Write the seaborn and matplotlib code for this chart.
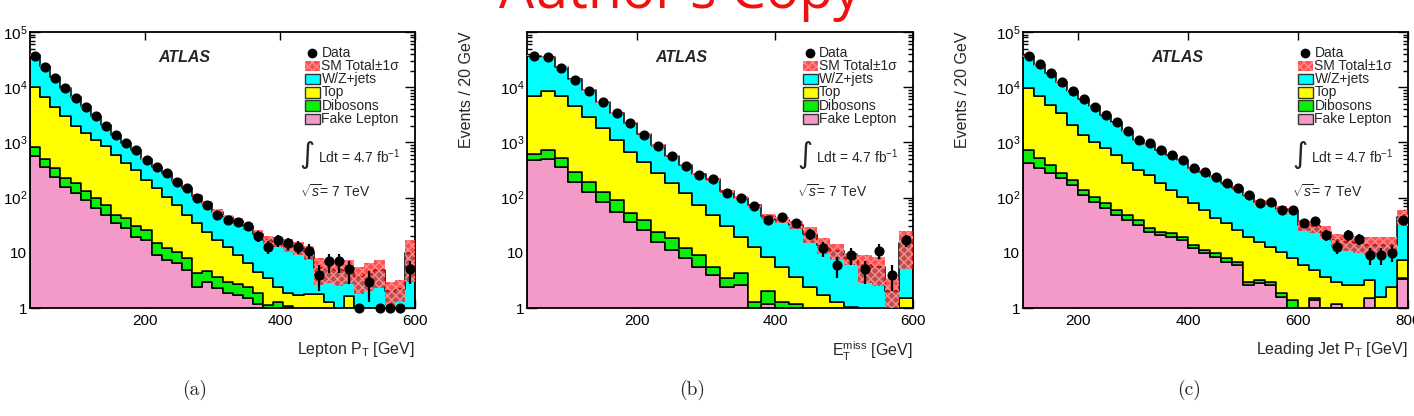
import numpy as np
import pandas as pd
import matplotlib
matplotlib.use("Agg")
import matplotlib.pyplot as plt
import seaborn as sns
from matplotlib.patches import Rectangle
from matplotlib.ticker import LogLocator, NullFormatter, FixedLocator

sns.set_theme(style="ticks")
plt.rcParams["font.family"] = ["Liberation Sans", "DejaVu Sans"]
plt.rcParams["mathtext.fontset"] = "custom"
plt.rcParams["mathtext.rm"] = "Liberation Sans"
plt.rcParams["mathtext.it"] = "Liberation Sans:italic"
plt.rcParams["mathtext.bf"] = "Liberation Sans:bold"
plt.rcParams["hatch.linewidth"] = 1.0

# ---------------- data ----------------
PROCS = ["W/Z+jets", "Top", "Dibosons", "Fake Lepton"]
COLORS = {"W/Z+jets": "#00ffff", "Top": "#ffff00", "Dibosons": "#0aee0a", "Fake Lepton": "#f49ac8"}
BAND_FACE = (1.0, 0.05, 0.05, 0.72)
BAND_HATCH = "#ff8a8a"

# Panel (a): lepton pT, 30-600 GeV, 15 GeV bins
a_range = (30, 600, 15)
a_stack_fake = [570, 365, 240, 158, 120, 90, 64, 48, 34, 28, 19.6, 17, 9.1, 7.4, 6.4, 4.9, 2.4, 3.0, 2.3,
                1.85, 1.7, 1.5, 1.2, 0.95, 0.8, 0.7, 0, 0, 0, 0, 0, 0, 0, 0, 0, 0, 0, 0]
a_stack_dib = [832, 493, 340, 224, 182, 129, 97, 74, 48, 42, 30, 26, 14.8, 12, 10.5, 7.9, 4.3, 4.6, 3.7,
               3.0, 2.7, 2.4, 1.85, 1.13, 1.3, 1.1, 0, 0, 0, 0, 0, 0, 0, 0, 0, 0, 0, 0]
a_stack_top = [10000, 6700, 4400, 2950, 2000, 1450, 1100, 870, 590, 417, 316, 210, 148, 104, 74, 48.5, 34,
               24, 17, 12.9, 9.1, 6.4, 4.5, 3.45, 2.4, 1.85, 1.7, 1.8, 1.8, 1.3, 0, 1.65, 0, 0, 0, 0, 0, 0]
a_sm_total = [38000, 24000, 15000, 9800, 6600, 4500, 3050, 2050, 1380, 980, 720, 500, 365, 275, 200, 150,
              108, 80, 56, 44, 38, 30, 22, 17, 16, 14, 12.5, 10.5, 5.3, 5.2, 4.8, 5.1, 3.7, 4.2, 4.9, 2.0,
              2.25, 10]
a_sm_err = [1500, 900, 550, 360, 250, 170, 120, 85, 60, 45, 36, 27, 21, 17, 14, 11, 9, 7.5, 6, 5, 5, 4.5,
            4, 3.5, 3.5, 3.5, 3.2, 3, 2.7, 2.4, 2.3, 2.4, 1.9, 2.2, 2.6, 1.0, 0.95, 7]
a_data = [36000, 23000, 14800, 9600, 6500, 4450, 2960, 2000, 1350, 960, 730, 480, 365, 275, 195, 147, 97,
          73, 48, 39, 36, 30, 20, 13, 17, 15, 13, 11, 4, 7, 7, 5, 0, 3, 0, 0, 0, 5]

# Panel (b): ETmiss, 40-600 GeV, 20 GeV bins
b_range = (40, 600, 20)
b_stack_fake = [480, 510, 365, 195, 128, 84, 56, 36.5, 26, 16, 11.2, 7.9, 5.6, 3.95, 2.4, 2.6, 0, 1.2,
                0, 0, 0, 0, 0, 0, 0, 0, 0, 0]
b_stack_dib = [620, 720, 515, 295, 195, 128, 90, 52, 39, 24, 18.2, 12, 9.1, 5.6, 3.45, 4.25, 1.3, 2.0,
               1.3, 1.2, 0, 0, 0, 0, 0, 0, 0, 0]
b_stack_top = [6840, 8700, 7000, 4600, 2900, 1800, 1100, 680, 450, 275, 182, 120, 73, 48, 30, 19.6, 12.9,
               8.5, 5.6, 3.7, 2.4, 1.7, 1.3, 1.05, 0, 0, 0, 1.5]
b_sm_total = [37500, 35500, 23000, 13800, 8800, 5400, 3450, 2250, 1420, 880, 575, 385, 265, 215, 130, 100,
              72, 46, 40, 32, 22, 14, 11, 8, 6, 5.5, 2, 15]
b_sm_err = [1500, 1400, 900, 550, 350, 220, 140, 90, 60, 38, 25, 18, 13, 11, 8, 7, 6, 5, 5, 5, 7, 4.5,
            3.5, 2, 3.2, 3, 1.5, 10]
b_data = [36500, 34600, 22500, 13600, 8700, 5300, 3400, 2240, 1380, 860, 570, 375, 257, 215, 123, 97, 70,
          40, 44, 35, 22, 12, 6, 9, 5, 11, 4, 17]

# Panel (c): leading jet pT, 100-800 GeV, 20 GeV bins
c_range = (100, 800, 20)
c_stack_fake = [417, 340, 275, 225, 170, 112, 84, 64, 48, 39, 32, 24, 21, 19.6, 17, 12, 9.8, 8.5, 6.9, 6.0,
                2.6, 2.8, 2.6, 1.6, 0.9, 0, 1.4, 0, 1.18, 0, 0, 1.5, 0, 0, 3.4]
c_stack_dib = [730, 515, 390, 275, 208, 137, 104, 79, 60, 48, 39, 28, 24, 22.5, 19.6, 13.8, 11.2, 9.8, 7.9,
               6.9, 3.0, 3.2, 3.0, 1.85, 1.4, 0, 1.5, 0, 1.2, 0, 0, 1.5, 0, 0, 3.5]
c_stack_top = [9700, 6840, 4800, 3400, 2100, 1360, 1030, 780, 590, 417, 316, 257, 182, 137, 104, 79, 60, 42,
               34, 26, 19.6, 15.9, 12.9, 10.5, 7.9, 6, 4.9, 3.7, 3.0, 2.6, 2.6, 3.2, 1.6, 2.4, 7.4]
c_sm_total = [37000, 25500, 18000, 12400, 8600, 6200, 4500, 3200, 2300, 1620, 1120, 940, 740, 590, 480, 345,
              295, 240, 182, 148, 112, 82, 82, 62, 58, 32, 30, 24, 17, 16, 15, 14, 14, 14, 45]
c_sm_err = [1400, 950, 650, 450, 320, 230, 170, 120, 90, 65, 48, 40, 32, 27, 23, 18, 16, 14, 12, 11, 9, 8,
            8, 7, 7, 7, 7, 6, 5, 5, 5, 5, 5, 5, 15]
c_data = [36500, 25800, 18300, 12300, 8500, 6150, 4450, 3200, 2300, 1600, 1100, 960, 730, 590, 480, 340, 295,
          240, 182, 147, 112, 79, 84, 60, 60, 34, 37, 21, 13, 21, 18, 9, 9, 10, 40]

LEGEND_LABELS = ["Data", "SM Total\u00b11\u03c3", "W/Z+jets", "Top", "Dibosons", "Fake Lepton"]
Y_TICK_LABELS = ["1", "10", "$10^{2}$", "$10^{3}$", "$10^{4}$", "$10^{5}$"]

W, H = 1414, 416
fig = plt.figure(figsize=(W / 100, H / 100), dpi=100)


def draw_panel(left_px, width_px, rng, s_fake, s_dib, s_top, total, err, data,
               xticks, xlabel, ylabel, show_top_label, caption, cap_x):
    ax = fig.add_axes([left_px / W, 108 / H, width_px / W, 276 / H])
    lo, hi, step = rng
    edges = np.arange(lo, hi + step / 2, step)
    centers = 0.5 * (edges[:-1] + edges[1:])
    s_fake, s_dib, s_top = np.array(s_fake, float), np.array(s_dib, float), np.array(s_top, float)
    total, err, data = np.array(total, float), np.array(err, float), np.array(data, float)
    parts = {
        "Fake Lepton": s_fake,
        "Dibosons": np.clip(s_dib - s_fake, 0, None),
        "Top": np.clip(s_top - np.maximum(s_dib, s_fake), 0, None),
        "W/Z+jets": np.clip(total - np.maximum.reduce([s_top, s_dib, s_fake]), 0, None),
    }
    df = pd.concat([pd.DataFrame({"x": centers, "w": v, "proc": k}) for k, v in parts.items()],
                   ignore_index=True)
    ax.set_yscale("log")
    sns.histplot(data=df, x="x", weights="w", hue="proc", hue_order=PROCS, palette=COLORS,
                 multiple="stack", bins=[float(e) for e in edges], element="step", fill=True, alpha=1,
                 edgecolor="black", linewidth=1.1, legend=False, ax=ax)
    # uncertainty band
    low = np.clip(total - err, 0.05, None)
    up = total + err
    ax.bar(centers, up - low, bottom=low, width=step, facecolor=BAND_FACE,
           edgecolor=BAND_HATCH, hatch="xxxx", linewidth=0, zorder=3)
    # data
    yplot = np.where(data > 0, data, 1.0)
    e = np.where(data > 0, np.sqrt(data), 0)
    ax.errorbar(centers, yplot, yerr=[np.minimum(e, yplot * 0.999), e], fmt="o", ms=6.3, color="black",
                elinewidth=1.6, capsize=0, zorder=5, clip_on=False)

    ax.set_xlim(lo, hi)
    ax.set_ylim(1, 1e5)
    ax.set_xticks(xticks)
    ax.set_xticklabels([str(t) for t in xticks])
    ax.yaxis.set_major_locator(FixedLocator([1, 10, 1e2, 1e3, 1e4, 1e5]))
    labels = list(Y_TICK_LABELS)
    if not show_top_label:
        labels[-1] = ""
    ax.set_yticklabels(labels)
    ax.yaxis.set_minor_locator(LogLocator(base=10, subs=np.arange(2, 10)))
    ax.yaxis.set_minor_formatter(NullFormatter())
    ax.tick_params(axis="both", which="both", direction="in", top=True, right=True,
                   labelsize=11, colors="black", width=1.0)
    ax.tick_params(axis="y", which="major", length=7, pad=2)
    ax.tick_params(axis="y", which="minor", length=3.5)
    ax.tick_params(axis="x", which="major", length=6, pad=4)
    for sp in ax.spines.values():
        sp.set_linewidth(1.3)
        sp.set_color("black")
        sp.set_visible(True)
    ax.set_xlabel(xlabel, fontsize=11.5, ha="right")
    ax.xaxis.set_label_coords(1.0, -0.115)
    ax.set_ylabel("")
    if ylabel:
        ax.set_ylabel(ylabel, fontsize=11.5, ha="right")
        ax.yaxis.set_label_coords(-0.137, 1.0)

    # ATLAS
    ax.text(0.40, 0.906, "ATLAS", transform=ax.transAxes, fontsize=11.5, fontweight="bold",
            fontstyle="italic", ha="center", va="center")
    # legend (drawn by hand, ROOT style)
    rows = [0.925, 0.877, 0.829, 0.781, 0.733, 0.685]
    bx, bw, bh = 0.714, 0.039, 0.038
    ax.plot([bx + bw / 2], [rows[0]], "o", color="black", ms=6, transform=ax.transAxes, zorder=6)
    ax.add_patch(Rectangle((bx, rows[1] - bh / 2), bw, bh, transform=ax.transAxes,
                           facecolor=BAND_FACE, edgecolor=BAND_HATCH, hatch="xxxx",
                           linewidth=0, zorder=6))
    for r, name in zip(rows[2:], ["W/Z+jets", "Top", "Dibosons", "Fake Lepton"]):
        ax.add_patch(Rectangle((bx, r - bh / 2), bw, bh, transform=ax.transAxes,
                               facecolor=COLORS[name], edgecolor="#333333", linewidth=1.0, zorder=6))
    for r, lab in zip(rows, LEGEND_LABELS):
        ax.text(bx + bw + 0.004, r, lab, transform=ax.transAxes, fontsize=10, ha="left", va="center",
                zorder=7)
    # luminosity / energy
    ax.text(0.700, 0.553, "\u222b", transform=ax.transAxes, fontsize=21, family=["DejaVu Sans"],
            ha="left", va="center")
    ax.text(0.748, 0.548, "Ldt = 4.7 fb$^{-1}$", transform=ax.transAxes, fontsize=10,
            ha="left", va="center")
    ax.text(0.700, 0.421, r"$\sqrt{s}$= 7 TeV", transform=ax.transAxes, fontsize=10,
            ha="left", va="center")
    fig.text(cap_x / W, 1 - 390 / H, caption, family="cmr10", fontsize=14, ha="center", va="center")
    return ax


draw_panel(30, 385, a_range, a_stack_fake, a_stack_dib, a_stack_top, a_sm_total, a_sm_err, a_data,
           [200, 400, 600], r"Lepton P$_{\rm T}$ [GeV]", None, True, "(a)", 195)
draw_panel(527, 386, b_range, b_stack_fake, b_stack_dib, b_stack_top, b_sm_total, b_sm_err, b_data,
           [200, 400, 600], r"E$_{\rm T}^{\rm miss}$ [GeV]", "Events / 20 GeV", False, "(b)", 692)
draw_panel(1023, 385, c_range, c_stack_fake, c_stack_dib, c_stack_top, c_sm_total, c_sm_err, c_data,
           [200, 400, 600, 800], r"Leading Jet P$_{\rm T}$ [GeV]", "Events / 20 GeV", True, "(c)", 1189)

fig.text(680 / W, 1 - 8 / H, "Author's Copy", color="#f01010", fontsize=40, family=["Open Sans"],
         ha="center", va="baseline")

fig.savefig("out.png", dpi=100)
